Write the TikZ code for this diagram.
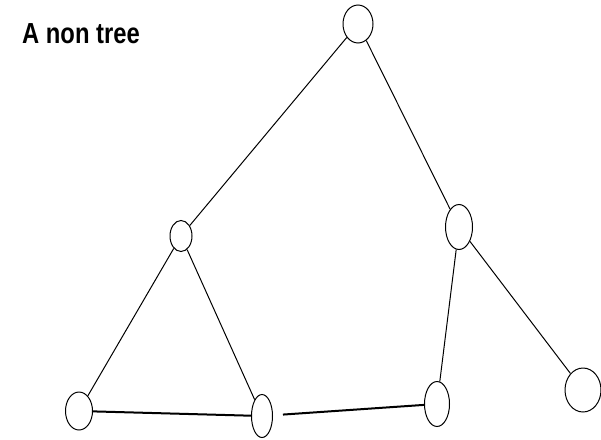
\documentclass[tikz,border=0pt]{standalone}
\usepackage{fontspec}
\setmainfont{Liberation Sans}
\usetikzlibrary{shapes.geometric}

\begin{document}
\begin{tikzpicture}[x=1pt,y=-1pt,
  vtx/.style={draw,ellipse,inner sep=0pt,line width=1pt},
  edge/.style={line width=1pt},
  thickedge/.style={line width=2pt}]
\useasboundingbox (0,0) rectangle (601,439);

\node[anchor=west,font=\bfseries\fontsize{29}{29}\selectfont,inner sep=0pt] (title) at (22,34) {\scalebox{0.82}[1]{A non tree}};

\node[vtx,minimum width=30,minimum height=38] (top) at (358,24) {};
\node[vtx,minimum width=22,minimum height=31] (lm) at (181,236) {};
\node[vtx,minimum width=27,minimum height=45] (rm) at (459,227) {};
\node[vtx,minimum width=27,minimum height=38] (bl) at (79,411) {};
\node[vtx,minimum width=21,minimum height=43] (bm) at (262,416) {};
\node[vtx,minimum width=25,minimum height=45] (bt) at (437,404) {};
\node[vtx,minimum width=36,minimum height=44] (br) at (583,390) {};

\draw[edge] (top) -- (lm);
\draw[edge] (top) -- (rm);
\draw[edge] (lm) -- (bl);
\draw[edge] (lm) -- (bm);
\draw[edge] (rm) -- (bt);
\draw[edge] (rm) -- (br);
\draw[thickedge] (bl) -- (bm);
\draw[thickedge,shorten <=10pt] (bm) -- (bt);

\end{tikzpicture}
\end{document}
